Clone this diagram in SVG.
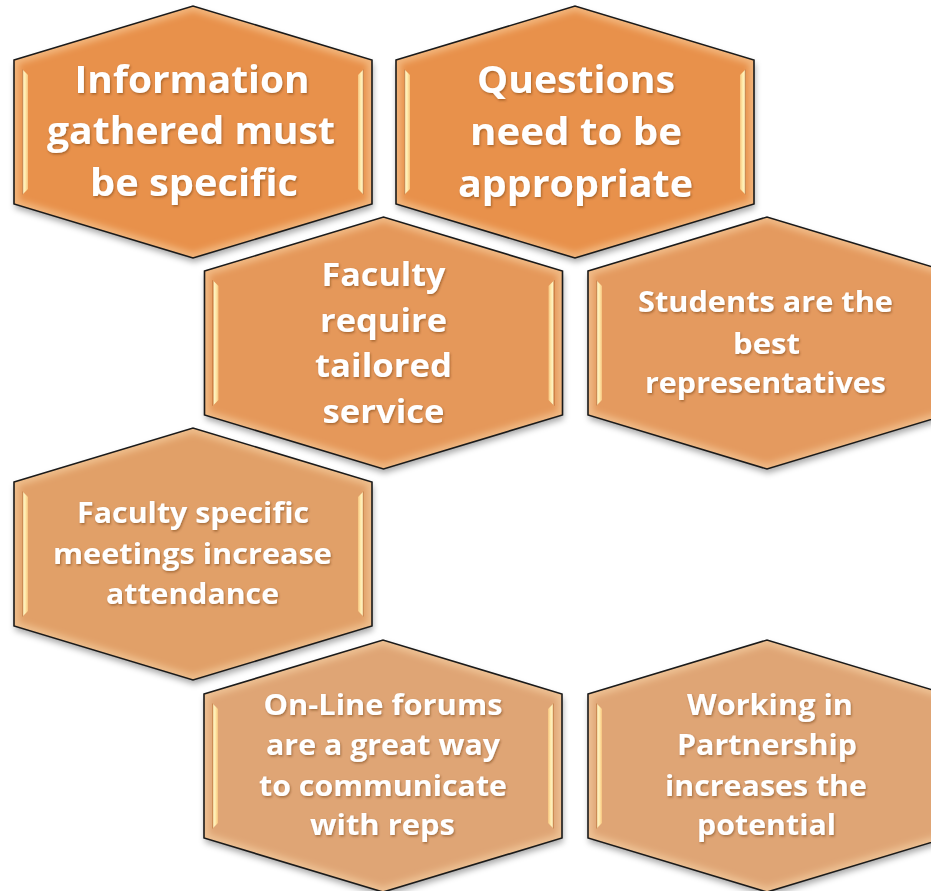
<svg xmlns="http://www.w3.org/2000/svg" xmlns:xlink="http://www.w3.org/1999/xlink" width="931" height="891" viewBox="0 0 931 891">
  <defs>
    <polygon id="hex" points="-179,-72 0,-126 179,-72 179,72 0,126 -179,72"/>
    <clipPath id="hexClip"><use href="#hex"/></clipPath>
    <filter id="shadow" x="-20%" y="-20%" width="140%" height="150%">
      <feDropShadow dx="1" dy="4" stdDeviation="3" flood-color="#000" flood-opacity="0.35"/>
    </filter>
    <filter id="glow" x="-10%" y="-10%" width="120%" height="120%">
      <feGaussianBlur stdDeviation="3"/>
    </filter>
    <filter id="tshadow" x="-10%" y="-30%" width="120%" height="160%">
      <feDropShadow dx="1" dy="1.5" stdDeviation="1.2" flood-color="#5a2a00" flood-opacity="0.45"/>
    </filter>
    <linearGradient id="bevL" x1="0" y1="0" x2="1" y2="0">
      <stop offset="0" stop-color="#b8642a"/>
      <stop offset="0.3" stop-color="#fff3c2"/>
      <stop offset="0.6" stop-color="#ffe9a8"/>
      <stop offset="1" stop-color="#f6c27e"/>
    </linearGradient>
    <linearGradient id="bevR" x1="0" y1="0" x2="1" y2="0">
      <stop offset="0" stop-color="#f6c27e"/>
      <stop offset="0.4" stop-color="#ffe9a8"/>
      <stop offset="0.7" stop-color="#fff3c2"/>
      <stop offset="1" stop-color="#b8642a"/>
    </linearGradient>
    <g id="deco">
      <use href="#hex" fill="none" stroke="#ffe2b8" stroke-width="10" stroke-opacity="0.45" clip-path="url(#hexClip)" filter="url(#glow)"/>
      <polygon points="-171,-63 -165,-57 -165,57 -171,63" fill="url(#bevL)"/>
      <polygon points="171,-63 165,-57 165,57 171,63" fill="url(#bevR)"/>
      <use href="#hex" fill="none" stroke="#1a1a1a" stroke-width="1.6" stroke-linejoin="miter"/>
    </g>
    <style>
      .t { font-family: "Open Sans", "Noto Sans", "Liberation Sans", sans-serif; font-weight: 700; fill: #ffffff; text-anchor: middle; }
      .big { font-size: 38px; }
      .mid { font-size: 33px; }
      .sm { font-size: 29px; }
      .txt { filter: url(#tshadow); }
    </style>
  </defs>

  <rect width="931" height="891" fill="#ffffff"/>

  <g id="connectors"/>

  <g id="n1" transform="translate(193,132)">
    <use href="#hex" fill="#e8914c" filter="url(#shadow)"/>
    <use href="#deco"/>
    <g class="txt">
      <text class="t big" x="-1" y="-39" textLength="235" lengthAdjust="spacingAndGlyphs">Information</text>
      <text class="t big" x="-2" y="12" textLength="288" lengthAdjust="spacingAndGlyphs">gathered must</text>
      <text class="t big" x="1" y="64" textLength="208" lengthAdjust="spacingAndGlyphs">be specific</text>
    </g>
  </g>

  <g id="n2" transform="translate(575,132)">
    <use href="#hex" fill="#e8914c" filter="url(#shadow)"/>
    <use href="#deco"/>
    <g class="txt">
      <text class="t big" x="1" y="-39" textLength="198" lengthAdjust="spacingAndGlyphs">Questions</text>
      <text class="t big" x="1" y="13" textLength="212" lengthAdjust="spacingAndGlyphs">need to be</text>
      <text class="t big" x="0.5" y="65" textLength="235" lengthAdjust="spacingAndGlyphs">appropriate</text>
    </g>
  </g>

  <g id="n3" transform="translate(383.5,343)">
    <use href="#hex" fill="#e5985a" filter="url(#shadow)"/>
    <use href="#deco"/>
    <g class="txt">
      <text class="t mid" x="0" y="-57" textLength="124" lengthAdjust="spacingAndGlyphs">Faculty</text>
      <text class="t mid" x="0" y="-11" textLength="127" lengthAdjust="spacingAndGlyphs">require</text>
      <text class="t mid" x="0" y="34" textLength="137" lengthAdjust="spacingAndGlyphs">tailored</text>
      <text class="t mid" x="0" y="80" textLength="122" lengthAdjust="spacingAndGlyphs">service</text>
    </g>
  </g>

  <g id="n4" transform="translate(767,343)">
    <use href="#hex" fill="#e49a5e" filter="url(#shadow)"/>
    <use href="#deco"/>
    <g class="txt">
      <text class="t sm" x="-1.5" y="-31" textLength="255" lengthAdjust="spacingAndGlyphs">Students are the</text>
      <text class="t sm" x="-0.5" y="11" textLength="67" lengthAdjust="spacingAndGlyphs">best</text>
      <text class="t sm" x="-1.5" y="50" textLength="241" lengthAdjust="spacingAndGlyphs">representatives</text>
    </g>
  </g>

  <g id="n5" transform="translate(193,554)">
    <use href="#hex" fill="#e1a067" filter="url(#shadow)"/>
    <use href="#deco"/>
    <g class="txt">
      <text class="t sm" x="0" y="-31" textLength="232" lengthAdjust="spacingAndGlyphs">Faculty specific</text>
      <text class="t sm" x="-0.5" y="10" textLength="279" lengthAdjust="spacingAndGlyphs">meetings increase</text>
      <text class="t sm" x="-0.5" y="50" textLength="173" lengthAdjust="spacingAndGlyphs">attendance</text>
    </g>
  </g>

  <g id="n6" transform="translate(383,766)">
    <use href="#hex" fill="#dfa574" filter="url(#shadow)"/>
    <use href="#deco"/>
    <g class="txt">
      <text class="t sm" x="0" y="-51" textLength="239" lengthAdjust="spacingAndGlyphs">On-Line forums</text>
      <text class="t sm" x="0" y="-11" textLength="234" lengthAdjust="spacingAndGlyphs">are a great way</text>
      <text class="t sm" x="0" y="30" textLength="248" lengthAdjust="spacingAndGlyphs">to communicate</text>
      <text class="t sm" x="-0.5" y="69" textLength="145" lengthAdjust="spacingAndGlyphs">with reps</text>
    </g>
  </g>

  <g id="n7" transform="translate(767,766)">
    <use href="#hex" fill="#dfa574" filter="url(#shadow)"/>
    <use href="#deco"/>
    <g class="txt">
      <text class="t sm" x="3" y="-51" textLength="166" lengthAdjust="spacingAndGlyphs">Working in</text>
      <text class="t sm" x="0" y="-11" textLength="180" lengthAdjust="spacingAndGlyphs">Partnership</text>
      <text class="t sm" x="-1" y="30" textLength="202" lengthAdjust="spacingAndGlyphs">increases the</text>
      <text class="t sm" x="-0.5" y="69" textLength="139" lengthAdjust="spacingAndGlyphs">potential</text>
    </g>
  </g>
</svg>
